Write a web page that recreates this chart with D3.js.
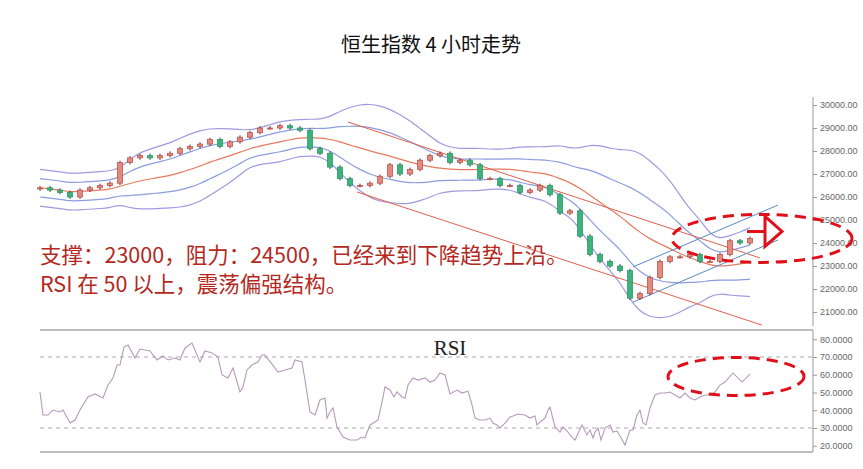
<!DOCTYPE html>
<html><head><meta charset="utf-8">
<script src="https://cdn.jsdelivr.net/npm/d3@7"></script>
<style>body{margin:0;background:#fff}svg{display:block}</style>
</head><body><svg id="c" width="863" height="469"></svg>
<script>
const closes=[26400,26300,26200,26000,26300,26400,26500,26600,27500,27700,27800,27700,27800,27900,28100,28200,28300,28500,28200,28400,28600,28800,29000,29000,29100,29000,28900,28100,27900,27300,26800,26500,26500,26600,26900,27400,27000,27200,27600,27800,27900,27500,27600,27400,26800,26800,26500,26500,26200,26300,26500,26100,25300,25400,24300,23500,23200,23000,22800,21600,21800,22500,23200,23400,23400,23500,23200,23200,23500,24100,24000,24200];
const firstOpen=26350;
const rsiT=[0,3,8,13,20,23,30,35,40,48,55,63,68,73,77,80,84,88,95,100,110,117,123,128,135,140,145,152,160,165,172,178,182,188,193,200,203,207,212,218,222,225,238,245,252,255,262,265,270,275,280,285,287,290,293,297,303,310,317,322,325,330,335,338,342,345,350,354,357,362,365,368,373,378,385,390,395,400,405,410,417,422,428,432,435,440,445,450,453,457,460,465,470,473,478,485,490,495,497,500,505,508,510,515,520,523,527,530,535,542,547,550,553,555,558,561,565,570,573,577,580,585,590,593,597,600,603,606,610,615,620,625,630,635,640,645,650,655,660,665,670,675,680,685,693,702,710];
const rsiV=[50.3,37.3,37.3,40.1,39,40.1,32.8,34.5,40.1,47.5,49.2,46.9,54.2,58.2,65.5,65.5,75.6,76.8,69.4,74.5,73.4,68.3,70.6,68.3,69.4,68.3,75.1,77.9,67.2,73.4,72.3,70,59.9,58.2,63.8,50.3,53.1,62.7,65.5,67.2,71.1,71.1,61.5,62.7,63.8,68.3,67.2,57,39,37.3,45.8,46.9,35.6,39,41.3,30.6,24.9,23.2,23.2,24.9,24.4,31.7,33.4,34.5,44.6,53.1,51.4,47.5,50.3,47.5,46.9,54.2,58.2,57,58.2,55.9,57,61,59.9,49.2,51.4,49.7,50.8,43,35.6,34.5,34.5,35.6,32.8,31.7,30,32.8,36.2,36.8,37.9,37.3,35.6,36.8,31.7,33.4,35.6,40.1,41.8,30.6,27.7,30.6,28.3,26.1,23.2,31.7,26.1,28.9,24.4,27.7,30,23.2,30,31.7,27.7,28.3,25.5,20.4,28.9,28.9,37.3,40.1,32.8,31.7,41.3,48.6,49.7,49.7,50.3,48.6,46.9,49.7,46.9,45.8,47.5,48.6,48.6,50.3,54.2,55.9,61,55.9,60.4];
const priceTicks=[21000,22000,23000,24000,25000,26000,27000,28000,29000,30000];
const rsiTicks=[20,30,40,50,60,70,80];
const trendRed=[[[308,29260],[720,23350]],[[317,26220],[722,20430]]];
const trendBlue=[[[593,22960],[738,25650]],[[593,21430],[738,24130]]];
const title="恒生指数 4 小时走势";
const note1="支撑：23000，阻力：24500，已经来到下降趋势上沿。";
const note2="RSI 在 50 以上，震荡偏强结构。";

const svg=d3.select("#c");
const x=d3.scaleLinear().domain([0,710]).range([40,750]);
const y=d3.scaleLinear().domain([21000,30000]).range([312,105]);
const yr=d3.scaleLinear().domain([20,70]).range([445.75,357]);
const step=10;
const candles=closes.map((c,i)=>{const o=i?closes[i-1]:firstOpen;return {t:i*step,o,c,h:Math.max(o,c)+80,l:Math.min(o,c)-80};});

const P=14;
const bb=closes.map((c,i)=>{const w=closes.slice(Math.max(0,i-P+1),i+1);const m=d3.mean(w);const s=Math.sqrt(d3.mean(w,v=>(v-m)**2));return {t:i*step,m,s:Math.max(s,400)};});
const ln=f=>d3.line().x(d=>x(d.t)).y(d=>y(f(d))).curve(d3.curveBasis);
[[d=>d.m+2*d.s,"#9f9ae0"],[d=>d.m+d.s,"#8c9ce0"],[d=>d.m-d.s,"#8c9ce0"],[d=>d.m-2*d.s,"#9f9ae0"],[d=>d.m,"#e57a5e"]].forEach(([f,col])=>svg.append("path").attr("d",ln(f)(bb)).attr("fill","none").attr("stroke",col).attr("stroke-width",1.2));

trendRed.forEach(s=>svg.append("line").attr("x1",x(s[0][0])).attr("y1",y(s[0][1])).attr("x2",x(s[1][0])).attr("y2",y(s[1][1])).attr("stroke","#e0604a").attr("stroke-width",1));
trendBlue.forEach(s=>svg.append("line").attr("x1",x(s[0][0])).attr("y1",y(s[0][1])).attr("x2",x(s[1][0])).attr("y2",y(s[1][1])).attr("stroke","#5a8ac0").attr("stroke-width",1));

const g=svg.append("g");
candles.forEach(d=>{const up=d.c>=d.o;const col=up?"#c9504a":"#2e9a6a";
 g.append("line").attr("x1",x(d.t)).attr("x2",x(d.t)).attr("y1",y(d.h)).attr("y2",y(d.l)).attr("stroke","#333").attr("stroke-width",1);
 const yt=y(Math.max(d.o,d.c)),yb=y(Math.min(d.o,d.c));
 g.append("rect").attr("x",x(d.t)-2.5).attr("width",5).attr("y",yt).attr("height",Math.max(1,yb-yt)).attr("fill",up?"#e08a80":"#3cb37a").attr("stroke",col).attr("stroke-width",0.8);
});

const ax=svg.append("g").attr("transform","translate(813,0)").call(d3.axisRight(y).tickValues(priceTicks).tickFormat(d=>d3.format(".2f")(d)).tickSize(4));
ax.select(".domain").attr("d","M0,97V326");
ax.selectAll("text").attr("font-size",9).attr("fill","#666").attr("font-family","Liberation Sans");
ax.selectAll("line,path").attr("stroke","#999");

svg.append("text").attr("x",431).attr("y",52).attr("text-anchor","middle").attr("font-size",20).attr("font-family","Noto Sans CJK SC").attr("fill","#111").text(title);
svg.append("text").attr("x",40).attr("y",263).attr("font-size",21.5).attr("font-family","Noto Sans CJK SC").attr("fill","#b5281e").text(note1);
svg.append("text").attr("x",40).attr("y",292).attr("font-size",21.5).attr("font-family","Noto Sans CJK SC").attr("fill","#b5281e").text(note2);

svg.append("ellipse").attr("cx",x(722)).attr("cy",y(24200)).attr("rx",90).attr("ry",24).attr("fill","none").attr("stroke","#e0101a").attr("stroke-width",3).attr("stroke-dasharray","11,7");
const ax0=x(707),ay=y(24200);
svg.append("path").attr("d",`M${ax0},${ay-7}h18v-15l17,15l-17,15v-15h-18z`).attr("fill","#fff").attr("stroke","#e0101a").attr("stroke-width",3).attr("stroke-linejoin","miter");

svg.append("line").attr("x1",40).attr("x2",813).attr("y1",330).attr("y2",330).attr("stroke","#aaa").attr("stroke-width",1.5);
svg.append("line").attr("x1",40).attr("x2",813).attr("y1",452).attr("y2",452).attr("stroke","#aaa").attr("stroke-width",1.5);
[70,30].forEach(v=>svg.append("line").attr("x1",40).attr("x2",813).attr("y1",yr(v)).attr("y2",yr(v)).attr("stroke","#aaa").attr("stroke-dasharray","4,4"));
const rax=svg.append("g").attr("transform","translate(813,0)").call(d3.axisRight(yr).tickValues(rsiTicks).tickFormat(d=>d3.format(".4f")(d)).tickSize(4));
rax.select(".domain").attr("d","M0,330V452");
rax.selectAll("text").attr("font-size",9).attr("fill","#666").attr("font-family","Liberation Sans");
rax.selectAll("line,path").attr("stroke","#999");
svg.append("text").attr("x",450).attr("y",355).attr("text-anchor","middle").attr("font-size",21).attr("font-family","Liberation Serif").attr("fill","#222").text("RSI");
svg.append("path").attr("d",d3.line().x(d=>x(d)).y((d,i)=>yr(rsiV[i]))(rsiT)).attr("fill","none").attr("stroke","#b49ab8").attr("stroke-width",1.1);
svg.append("ellipse").attr("cx",x(696)).attr("cy",yr(59)).attr("rx",68).attr("ry",19).attr("fill","none").attr("stroke","#e0101a").attr("stroke-width",3).attr("stroke-dasharray","11,7");
</script></body></html>
